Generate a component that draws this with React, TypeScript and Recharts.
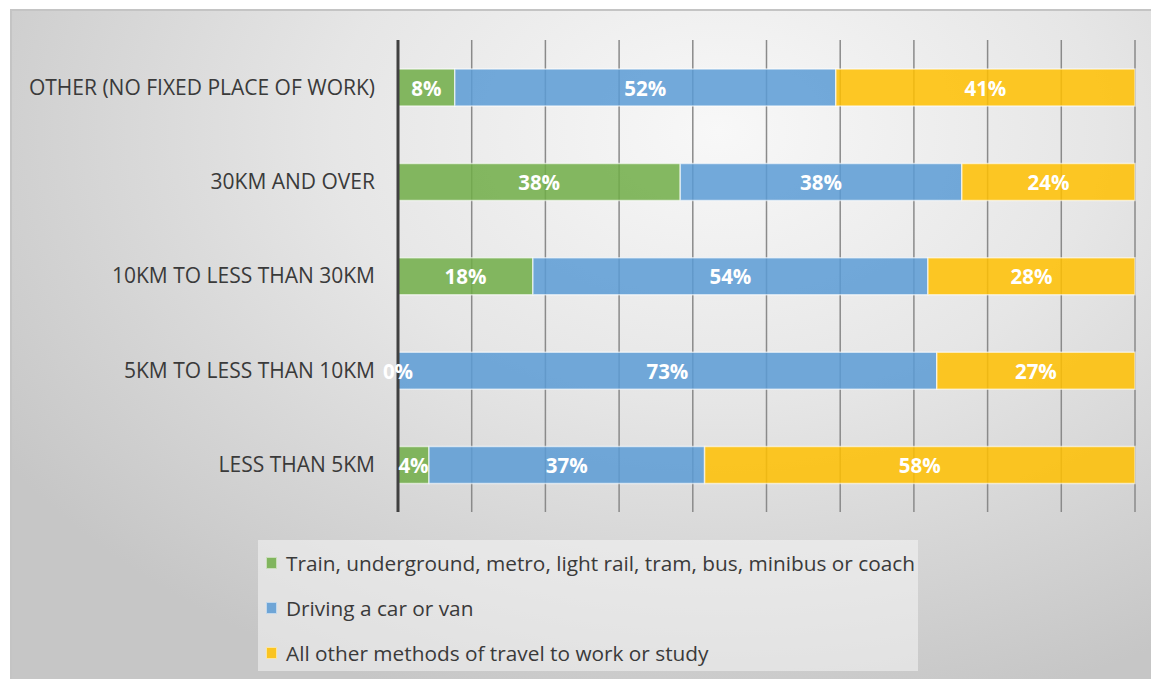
import { BarChart, Bar, XAxis, YAxis, CartesianGrid, LabelList } from "recharts";

// distance bands, top to bottom as drawn
const categories = [
  "OTHER (NO FIXED PLACE OF WORK)",
  "30KM AND OVER",
  "10KM TO LESS THAN 30KM",
  "5KM TO LESS THAN 10KM",
  "LESS THAN 5KM",
];
const publicTransport = [7.7, 38.3, 18.3, 0, 4.2];
const driving = [51.7, 38.2, 53.6, 73.1, 37.4];
const otherMethods = [40.6, 23.5, 28.1, 26.9, 58.4];
const xTicks = [0, 10, 20, 30, 40, 50, 60, 70, 80, 90, 100];

const series = [
  { key: "train", name: "Train, underground, metro, light rail, tram, bus, minibus or coach", color: "#70ad47" },
  { key: "car", name: "Driving a car or van", color: "#5b9bd5" },
  { key: "other", name: "All other methods of travel to work or study", color: "#ffc000" },
];

const data = categories.map((c, i) => ({
  cat: c,
  train: publicTransport[i],
  car: driving[i],
  other: otherMethods[i],
}));

const FONT = "'Open Sans', 'Noto Sans', sans-serif";
const labelStyle = { fontSize: 20.5, fontWeight: 700, fontFamily: FONT };

function ValueLabel(props: any) {
  const { x, y, width, height, value } = props;
  if (value == null) return null;
  return (
    <text
      x={Number(x) + Number(width || 0) / 2}
      y={Number(y) + Number(height) / 2}
      textAnchor="middle"
      dominantBaseline="central"
      fill="#ffffff"
      style={labelStyle}
    >
      {`${Math.round(Number(value))}%`}
    </text>
  );
}

// the car segment also carries the label of an empty train segment (recharts skips zero-width bars)
function CarLabel(props: any) {
  const { x, y, height, index } = props;
  const zeroTrain = publicTransport[index] === 0;
  return (
    <g>
      <ValueLabel {...props} />
      {zeroTrain && (
        <text
          x={Number(x)}
          y={Number(y) + Number(height) / 2}
          textAnchor="middle"
          dominantBaseline="central"
          fill="#ffffff"
          style={labelStyle}
        >
          0%
        </text>
      )}
    </g>
  );
}

function LegendBox() {
  return (
    <div
      style={{
        position: "absolute",
        left: 258,
        top: 540,
        width: 660,
        height: 131,
        background: "rgba(245,245,245,0.55)",
        boxSizing: "border-box",
        paddingLeft: 8,
      }}
    >
      {series.map((s) => (
        <div key={s.key} style={{ display: "flex", alignItems: "center", height: 45 }}>
          <span
            style={{
              width: 9,
              height: 10,
              background: s.color,
              opacity: 0.85,
              border: "1px solid rgba(255,255,255,0.6)",
              marginRight: 9,
            }}
          />
          <span style={{ fontFamily: FONT, fontSize: 20.8, color: "#3a3a3a", whiteSpace: "nowrap" }}>{s.name}</span>
        </div>
      ))}
    </div>
  );
}

export default function App() {
  return (
    <div style={{ position: "absolute", left: 0, top: 0, width: 1151, height: 679, background: "#fff" }}>
      <div
        style={{
          position: "absolute",
          left: 10,
          top: 9,
          width: 1141,
          height: 670,
          borderTop: "2px solid #c4c4c4",
          borderLeft: "2px solid #c4c4c4",
          boxSizing: "border-box",
          background: "radial-gradient(ellipse 75% 90% at 62% 18%, #f8f8f8 0%, #e6e6e6 45%, #c6c6c6 100%)",
        }}
      />
      <div style={{ position: "absolute", left: 0, top: 0 }}>
        <BarChart
          width={1151}
          height={679}
          data={data}
          layout="vertical"
          margin={{ top: 40, right: 16, bottom: 167, left: 0 }}
          barSize={37}
        >
          <CartesianGrid horizontal={false} stroke="#8a8a8a" strokeWidth={1.5} />
          <XAxis type="number" domain={[0, 100]} ticks={xTicks} hide />
          <YAxis
            type="category"
            dataKey="cat"
            width={398}
            tickSize={0}
            tickMargin={23}
            tickLine={false}
            axisLine={{ stroke: "#404040", strokeWidth: 3 }}
            tick={{ fontSize: 21, fill: "#3a3a3a", fontFamily: FONT }}
          />
          {series.map((s) => (
            <Bar
              key={s.key}
              dataKey={s.key}
              name={s.name}
              stackId="a"
              fill={s.color}
              fillOpacity={0.85}
              stroke="rgba(255,255,255,0.6)"
              strokeWidth={1.5}
              isAnimationActive={false}
            >
              <LabelList dataKey={s.key} content={s.key === "car" ? CarLabel : ValueLabel} />
            </Bar>
          ))}
        </BarChart>
      </div>
      <LegendBox />
    </div>
  );
}
